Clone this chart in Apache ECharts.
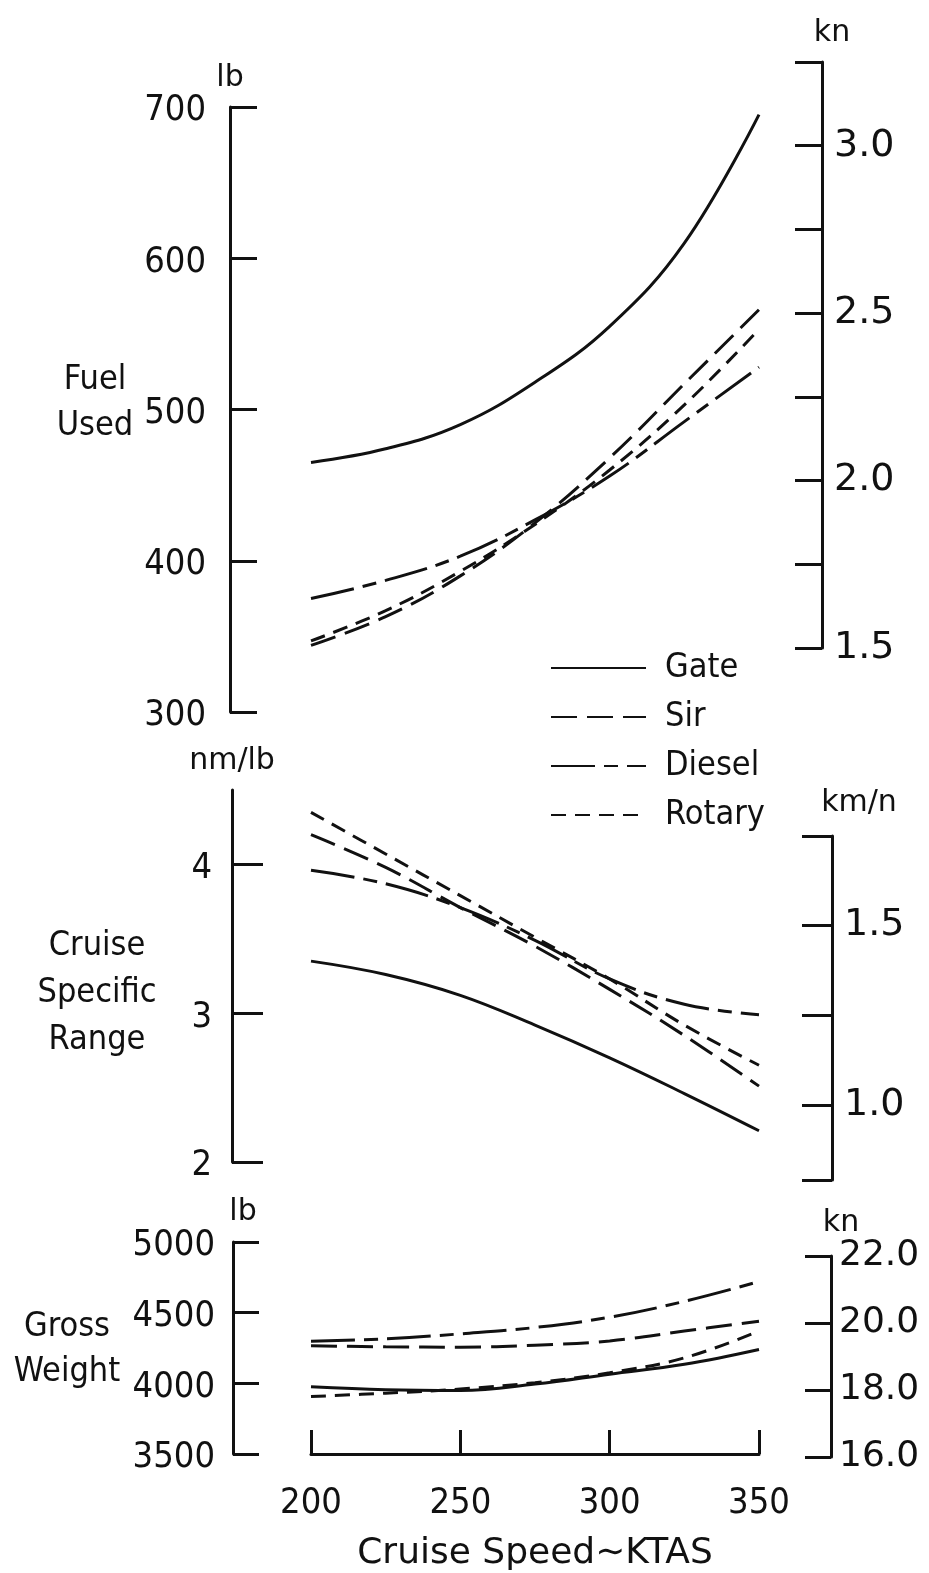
<!DOCTYPE html>
<html>
<head>
<meta charset="utf-8">
<title>Cruise speed trade</title>
<script src="https://cdn.jsdelivr.net/npm/echarts@6/dist/echarts.min.js"></script>
<style>
  html, body { margin: 0; padding: 0; background: #fff; }
  #chart { width: 929px; height: 1573px; }
</style>
</head>
<body>
<div id="chart"></div>
<script>
var speeds = [200, 225, 250, 275, 300, 325, 350];
var engines = ['Gate', 'Sir', 'Diesel', 'Rotary'];

// fuel used, lb
var fuelGate   = [465, 474, 490, 518, 555, 610, 695];
var fuelSir    = [344, 363, 390, 425, 468, 517, 566];
var fuelDiesel = [375, 387, 403, 427, 456, 492, 528];
var fuelRotary = [347, 367, 393, 424, 460, 503, 553];

// cruise specific range, nm/lb
var rangeGate   = [3.35, 3.26, 3.12, 2.92, 2.70, 2.46, 2.21];
var rangeSir    = [4.20, 3.98, 3.71, 3.45, 3.16, 2.85, 2.51];
var rangeDiesel = [3.96, 3.87, 3.71, 3.49, 3.23, 3.06, 2.99];
var rangeRotary = [4.35, 4.07, 3.79, 3.51, 3.23, 2.92, 2.65];

// gross weight, lb
var weightGate   = [3975, 3955, 3950, 3995, 4065, 4135, 4240];
var weightSir    = [4266, 4258, 4256, 4270, 4300, 4370, 4440];
var weightDiesel = [4297, 4315, 4350, 4395, 4468, 4580, 4720];
var weightRotary = [3907, 3930, 3960, 4005, 4075, 4180, 4370];

// tick labels
var fuelTicks = [300, 400, 500, 600, 700];
var fuelKnLabels = [1.5, 2.0, 2.5, 3.0];
var rangeTicks = [2, 3, 4];
var rangeKmTicks = [0.79, 1.0, 1.25, 1.5, 1.75];
var rangeKmLabels = [1.0, 1.5];
var weightTicks = [3500, 4000, 4500, 5000];
var weightKnTicks = [16, 18, 20, 22];

var dashes = {
  Gate: 'solid',
  Sir: [26, 10],
  Diesel: [44, 9, 14, 9],
  Rotary: [15, 9]
};

var narrow = '"DejaVu Sans Condensed", "Liberation Sans Narrow", "Liberation Sans", sans-serif';
var wide = '"DejaVu Sans", sans-serif';
var ink = '#111';

var myChart = echarts.init(document.getElementById('chart'), null, { renderer: 'canvas' });

function pairs(ys) {
  return speeds.map(function (s, i) { return [s, ys[i]]; });
}

function grid(top, height) {
  return { left: 311, width: 448, top: top, height: height };
}

function hiddenX(gi) {
  return { type: 'value', gridIndex: gi, min: 200, max: 350, show: false };
}

// labels sit a little below their ticks in the original
function plain(v) { return '{lo|' + v + '}'; }
function oneDec(v) { return v.toFixed(1); }

function sideAxis(gi, pos, offset, tickLen, name, extra) {
  var ax = {
    type: 'value',
    gridIndex: gi,
    position: pos,
    offset: offset,
    name: name,
    nameLocation: 'end',
    nameGap: 14,
    nameTextStyle: { color: ink, fontFamily: wide, fontSize: 30 },
    splitLine: { show: false },
    axisLine: { show: true, onZero: false, lineStyle: { color: ink, width: 3 } },
    axisTick: { show: true, inside: true, length: tickLen, lineStyle: { color: ink, width: 3 } },
    axisLabel: {
      color: ink, fontSize: 36,
      fontFamily: pos === 'left' ? narrow : wide,
      margin: pos === 'left' ? 24 : 12,
      formatter: pos === 'left' ? plain : oneDec,
      rich: { lo: { color: ink, fontSize: 36, fontFamily: narrow, padding: [8, 0, 0, 0] } }
    }
  };
  for (var k in extra) {
    if (typeof extra[k] === 'object' && ax[k] && !Array.isArray(extra[k])) {
      for (var j in extra[k]) ax[k][j] = extra[k][j];
    } else {
      ax[k] = extra[k];
    }
  }
  return ax;
}

var option = {
  backgroundColor: '#fff',
  animation: false,
  legend: {
    orient: 'vertical',
    left: 545,
    top: 646,
    itemWidth: 95,
    itemHeight: 14,
    itemGap: 15,
    data: engines,
    itemStyle: { opacity: 0 },
    textStyle: { color: ink, fontSize: 34, fontFamily: narrow, padding: [0, 0, 0, 14] }
  },
  grid: [
    grid(107, 605),
    grid(62, 586),
    grid(790, 372),
    grid(836, 344),
    grid(1242, 225),
    grid(1256, 201)
  ],
  xAxis: [
    hiddenX(0), hiddenX(1), hiddenX(2), hiddenX(3),
    {
      type: 'value', gridIndex: 4, min: 200, max: 350, interval: 50,
      name: 'Cruise Speed\u223CKTAS',
      nameLocation: 'middle',
      nameGap: 82,
      nameTextStyle: { color: ink, fontSize: 36, fontFamily: wide },
      splitLine: { show: false },
      axisLine: { show: true, onZero: false, lineStyle: { color: ink, width: 3 } },
      axisTick: { show: true, inside: true, length: 24, lineStyle: { color: ink, width: 3 } },
      axisLabel: { color: ink, fontSize: 36, fontFamily: narrow, margin: 32 }
    },
    hiddenX(5)
  ],
  yAxis: [
    sideAxis(0, 'left', 81, 27, 'lb', {
      min: 300, max: 700, interval: 100,
      axisLabel: { customValues: fuelTicks }
    }),
    sideAxis(1, 'right', 63, 27, 'kn', {
      min: 1.5, max: 3.25, interval: 0.25,
      nameTextStyle: { padding: [0, 0, 0, 20] },
      axisLabel: { customValues: fuelKnLabels, fontSize: 38 }
    }),
    sideAxis(2, 'left', 79, 31, 'nm/lb', {
      min: 2, max: 4.5,
      axisTick: { customValues: rangeTicks },
      axisLabel: { customValues: rangeTicks, margin: 20 }
    }),
    sideAxis(3, 'right', 73, 30, 'km/n', {
      min: 0.79, max: 1.75,
      nameGap: 18,
      nameTextStyle: { padding: [0, 0, 0, 54] },
      axisLabel: { customValues: rangeKmLabels, fontSize: 38 },
      axisTick: { customValues: rangeKmTicks }
    }),
    sideAxis(4, 'left', 78, 26, 'lb', {
      min: 3500, max: 5000, interval: 500,
      nameGap: 15,
      nameTextStyle: { padding: [0, 0, 0, 20] },
      axisLabel: { customValues: weightTicks, margin: 18 }
    }),
    sideAxis(5, 'right', 72, 26, 'kn', {
      min: 16, max: 22, interval: 2,
      nameTextStyle: { padding: [0, 0, 0, 20] },
      axisLabel: { customValues: weightKnTicks, margin: 8 }
    })
  ],
  graphic: [
    { type: 'text', x: 95, y: 403, style: { text: 'Fuel\nUsed', fill: ink, font: '34px ' + narrow, align: 'center', verticalAlign: 'middle', lineHeight: 46 } },
    { type: 'text', x: 97, y: 993, style: { text: 'Cruise\nSpecific\nRange', fill: ink, font: '34px ' + narrow, align: 'center', verticalAlign: 'middle', lineHeight: 47 } },
    { type: 'text', x: 67, y: 1350, style: { text: 'Gross\nWeight', fill: ink, font: '34px ' + narrow, align: 'center', verticalAlign: 'middle', lineHeight: 45 } }
  ],
  series: []
};

var panels = [
  { axis: 0, data: { Gate: fuelGate, Sir: fuelSir, Diesel: fuelDiesel, Rotary: fuelRotary } },
  { axis: 2, data: { Gate: rangeGate, Sir: rangeSir, Diesel: rangeDiesel, Rotary: rangeRotary } },
  { axis: 4, data: { Gate: weightGate, Sir: weightSir, Diesel: weightDiesel, Rotary: weightRotary } }
];

panels.forEach(function (p) {
  engines.forEach(function (name) {
    option.series.push({
      name: name,
      type: 'line',
      xAxisIndex: p.axis,
      yAxisIndex: p.axis,
      smooth: 0.4,
      symbol: 'none',
      lineStyle: { color: ink, width: 3, type: dashes[name] },
      itemStyle: { color: ink },
      data: pairs(p.data[name])
    });
  });
});

myChart.setOption(option);
</script>
</body>
</html>
